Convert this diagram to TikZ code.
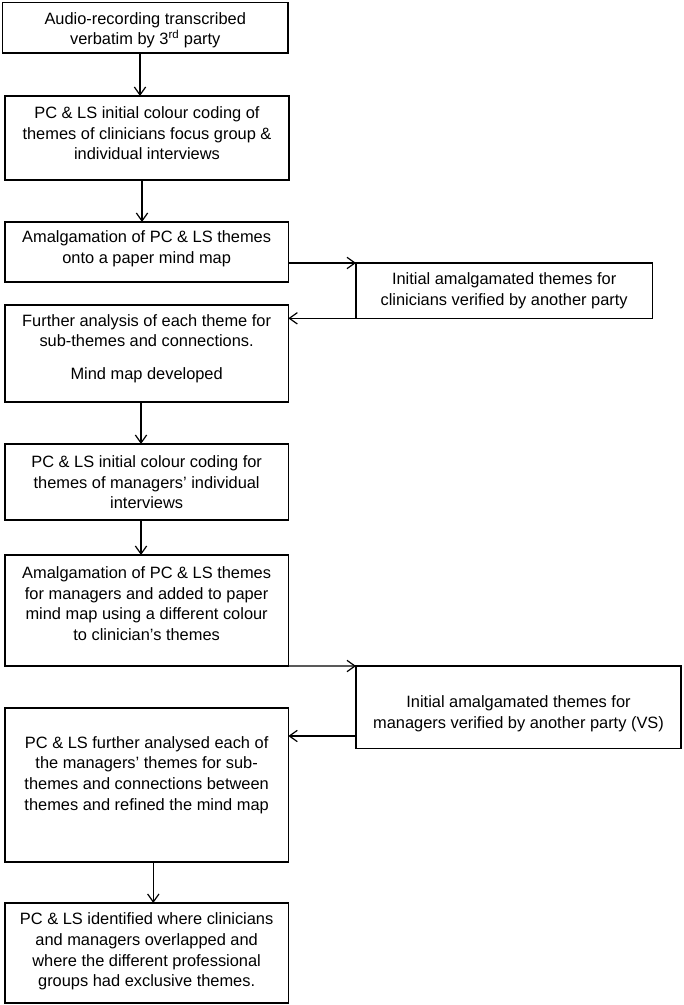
\documentclass[tikz,border=0pt]{standalone}
\usepackage{fontspec}
\setmainfont{Liberation Sans}
\usetikzlibrary{arrows.meta,calc}
\begin{document}
\begin{tikzpicture}[x=0.75pt,y=-0.75pt,
 box/.style={draw=black, line width=0.9pt, rectangle, inner sep=0pt, outer sep=0pt},
 txt/.style={align=center, inner sep=0pt, font=\fontsize{12.3}{15.4}\selectfont},
 arr/.style={draw=black, line width=0.9pt, -{Straight Barb[length=6pt,width=8.5pt]}}]
\useasboundingbox (0,0) rectangle (683,1005);
% boxes
\node[box, minimum width=214.1pt, minimum height=37.9pt] (b1) at (145.25,27.75) {};
\node[box, minimum width=213pt, minimum height=63pt] (b2) at (147,138) {};
\node[box, minimum width=212.5pt, minimum height=45pt] (b3) at (146.65,252) {};
\node[box, minimum width=212.5pt, minimum height=72.75pt] (b4) at (146.65,353.5) {};
\node[box, minimum width=212.5pt, minimum height=57pt] (b5) at (146.65,482) {};
\node[box, minimum width=212.5pt, minimum height=83.25pt] (b6) at (146.65,610.5) {};
\node[box, minimum width=212.5pt, minimum height=115.5pt] (b7) at (146.65,785) {};
\node[box, minimum width=212.5pt, minimum height=75pt] (b8) at (146.65,953) {};
\node[box, minimum width=222.2pt, minimum height=41.5pt] (r1) at (504.15,290.65) {};
\node[box, minimum width=243.75pt, minimum height=61.7pt] (r2) at (518.5,707.15) {};
% texts
\node[txt] (t1) at (145.25,30.3) {Audio-recording transcribed\\verbatim by 3\textsuperscript{rd} party};
\node[txt] (t2) at (147,133.3) {PC \& LS initial colour coding of\\themes of clinicians focus group \&\\individual interviews};
\node[txt] (t3) at (146.65,249) {Amalgamation of PC \& LS themes\\onto a paper mind map};
\node[txt] (t4) at (146.65,348.5) {Further analysis of each theme for\\sub-themes and connections.\\[9pt]Mind map developed};
\node[txt] (t5) at (146.65,482.2) {PC \& LS initial colour coding for\\themes of managers’ individual\\interviews};
\node[txt] (t6) at (146.65,603.5) {Amalgamation of PC \& LS themes\\for managers and added to paper\\mind map using a different colour\\to clinician’s themes};
\node[txt] (t7) at (146.65,775) {PC \& LS further analysed each of\\the managers’ themes for sub-\\themes and connections between\\themes and refined the mind map};
\node[txt] (t8) at (146.65,951.5) {PC \& LS identified where clinicians\\and managers overlapped and\\where the different professional\\groups had exclusive themes.};
\node[txt] (tr1) at (504.15,291) {Initial amalgamated themes for\\clinicians verified by another party};
\node[txt] (tr2) at (518.5,713.5) {Initial amalgamated themes for\\managers verified by another party (VS)};
% arrow columns
\coordinate (c1) at (140,0);
\coordinate (c2) at (142,0);
\coordinate (c4) at (141,0);
\coordinate (c7) at (153.3,0);
\coordinate (k) at (0,736);
% connectors
\draw[arr] (b1.south -| c1) -- (b2.north -| c1);
\draw[arr] (b2.south -| c2) -- (b3.north -| c2);
\draw[arr] (b3.east |- r1.north west) -- (r1.north west);
\draw[arr] (r1.south west) -- (b4.east |- r1.south west);
\draw[arr] (b4.south -| c4) -- (b5.north -| c4);
\draw[arr] (b5.south -| c4) -- (b6.north -| c4);
\draw[arr] (b6.south east) -- (r2.north west);
\draw[arr] (r2.west |- k) -- (b7.east |- k);
\draw[arr] (b7.south -| c7) -- (b8.north -| c7);
\end{tikzpicture}
\end{document}
